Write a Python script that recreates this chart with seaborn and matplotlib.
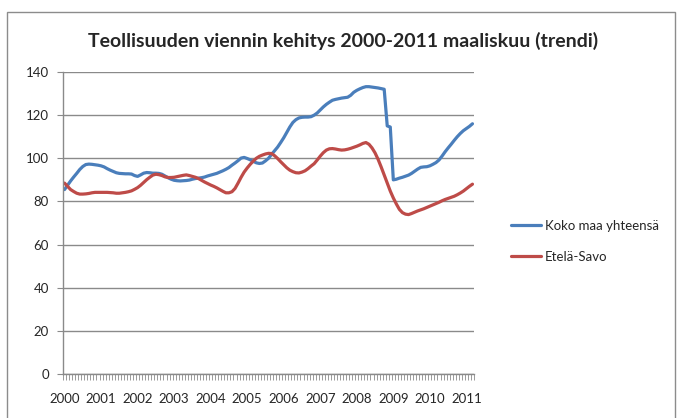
import numpy as np
import pandas as pd
import seaborn as sns
from matplotlib import pyplot as plt
from matplotlib.patches import Rectangle
from matplotlib.ticker import FixedLocator

# monthly trend index, Jan 2000 .. Mar 2011
koko_maa = [85.5, 87.5, 89.5, 91.3, 93.0, 94.8, 96.2, 97.1, 97.3, 97.2, 97.0, 96.8,
            96.5, 96.0, 95.2, 94.5, 93.9, 93.3, 93.0, 92.9, 92.8, 92.8, 92.7, 92.0,
            91.6, 92.3, 93.1, 93.4, 93.3, 93.1, 93.1, 93.0, 92.6, 91.8, 91.0, 90.3,
            89.8, 89.6, 89.5, 89.6, 89.7, 89.9, 90.3, 90.6, 90.8, 91.0, 91.3, 91.8,
            92.2, 92.6, 93.0, 93.6, 94.2, 94.9, 95.7, 96.8, 97.8, 98.9, 100.1, 100.4,
            99.9, 99.3, 98.6, 97.9, 97.6, 97.8, 98.8, 100.0, 101.8, 103.5, 105.2, 107.3,
            109.5, 112.0, 114.5, 116.6, 117.9, 118.7, 119.0, 119.1, 119.1, 119.3, 120.0, 121.0,
            122.4, 123.8, 125.0, 126.0, 126.9, 127.3, 127.6, 127.9, 128.1, 128.3, 129.2, 130.6,
            131.5, 132.2, 132.8, 133.2, 133.2, 133.0, 132.8, 132.6, 132.3, 132.0, 115.0, 114.5,
            90.0, 90.3, 90.8, 91.2, 91.7, 92.2, 93.0, 94.0, 95.0, 95.8, 96.0, 96.1,
            96.5, 97.2, 98.0, 99.2, 101.0, 103.0, 104.8, 106.5, 108.3, 110.0, 111.5, 112.8,
            113.8, 114.8, 116.0]
etela_savo = [88.5, 87.0, 85.5, 84.6, 83.8, 83.4, 83.4, 83.5, 83.7, 84.0, 84.2, 84.2,
              84.2, 84.2, 84.2, 84.1, 84.0, 83.8, 83.8, 84.0, 84.2, 84.5, 84.9, 85.6,
              86.4, 87.5, 88.8, 90.1, 91.2, 92.2, 92.6, 92.4, 92.0, 91.4, 91.1, 91.1,
              91.2, 91.5, 91.8, 92.1, 92.3, 92.0, 91.6, 91.2, 90.6, 89.8, 89.0, 88.3,
              87.6, 87.0, 86.3, 85.5, 84.7, 84.0, 84.0, 84.5, 86.0, 88.5, 91.2, 93.6,
              95.5, 97.2, 98.7, 100.0, 100.9, 101.5, 102.0, 102.3, 102.2, 101.2, 99.9, 98.4,
              97.0, 95.6, 94.5, 93.8, 93.3, 93.2, 93.6, 94.2, 95.2, 96.4, 97.5, 99.2,
              101.0, 102.6, 103.8, 104.4, 104.5, 104.3, 104.0, 103.8, 103.9, 104.2, 104.6, 105.1,
              105.6, 106.2, 106.9, 107.3, 106.5, 104.8, 102.5, 99.5, 96.0, 92.3, 88.5, 84.8,
              81.6, 78.8, 76.3, 74.8, 74.1, 73.9, 74.4, 75.0, 75.6, 76.1, 76.6, 77.2,
              77.8, 78.4, 79.0, 79.6, 80.3, 80.9, 81.4, 81.9, 82.4, 83.1, 83.9, 84.8,
              85.9, 87.0, 88.0]
years = [str(y) for y in range(2000, 2012)]
series_names = ["Koko maa yhteensä", "Etelä-Savo"]

n = len(koko_maa)
df = pd.DataFrame({
    "kuukausi": list(range(n)) * 2,
    "arvo": koko_maa + etela_savo,
    "sarja": [series_names[0]] * n + [series_names[1]] * n,
})

sns.set_style("white")
plt.rcParams['font.family'] = ['Lato', 'DejaVu Sans']

fig = plt.figure(figsize=(6.83, 4.18), dpi=100)
# outer chart border
fig.patches.append(Rectangle((7 / 683, -0.05), 668 / 683, 1.05 - 12 / 418,
                             transform=fig.transFigure, fill=False,
                             edgecolor="#8c8c8c", linewidth=1))

ax = fig.add_axes([63 / 683, 44 / 418, 411 / 683, 302 / 418])
sns.lineplot(data=df, x="kuukausi", y="arvo", hue="sarja", ax=ax,
             palette=["#4a7ebb", "#be4b48"], linewidth=2.3, legend=True)

ax.set_xlim(-0.5, n - 0.5)
ax.set_ylim(0, 140)
ax.set_yticks(range(0, 141, 20))
ax.yaxis.grid(True, color="#8a8a8a", linewidth=1)
ax.set_axisbelow(True)

ax.set_xticks([12 * i for i in range(len(years))])
ax.set_xticklabels(years, fontsize=9.5)
ax.xaxis.set_minor_locator(FixedLocator(np.arange(-0.5, n, 1)))
ax.tick_params(axis="x", which="major", length=0, pad=14)
ax.tick_params(axis="x", which="minor", length=4, color="#8a8a8a", width=0.6, bottom=True)
ax.tick_params(axis="y", length=4, color="#8a8a8a", left=True, labelsize=9.5, pad=6)

for s in ["top", "right"]:
    ax.spines[s].set_visible(False)
for s in ["left", "bottom"]:
    ax.spines[s].set_color("#8a8a8a")
    ax.spines[s].set_linewidth(1)

ax.set_xlabel("")
ax.set_ylabel("")

ax.legend(title=None, frameon=False, fontsize=9.5, loc="center left",
          bbox_to_anchor=(1.06, 0.44), handlelength=2.3, handletextpad=0.3,
          labelspacing=1.45)

fig.text(343 / 683, 1 - 41 / 418, "Teollisuuden viennin kehitys 2000-2011 maaliskuu (trendi)",
         ha="center", va="center", fontsize=14, fontweight="bold")

fig.savefig("out.png", dpi=100)
